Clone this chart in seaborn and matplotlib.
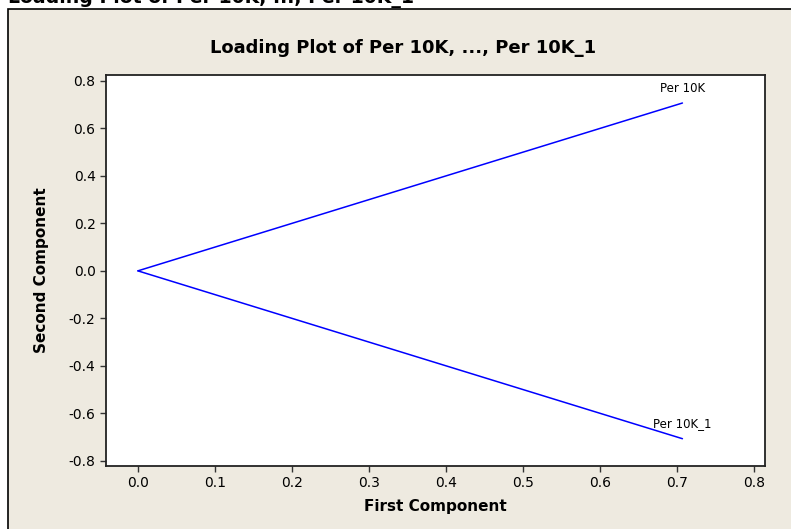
import numpy as np
import pandas as pd
import seaborn as sns
import matplotlib.pyplot as plt
from matplotlib.patches import Rectangle

# Yuklemeler (loadings) - PC1, PC2
variables = ['Per 10K', 'Per 10K_1']
first_comp = [0.707, 0.707]
second_comp = [0.707, -0.707]

x_ticks = [0.0, 0.1, 0.2, 0.3, 0.4, 0.5, 0.6, 0.7, 0.8]
y_ticks = [-0.8, -0.6, -0.4, -0.2, 0.0, 0.2, 0.4, 0.6, 0.8]

title = 'Loading Plot of Per 10K, ..., Per 10K_1'

sns.set_style('ticks')
plt.rcParams['font.family'] = ['DejaVu Sans']
plt.rcParams.update({'text.color': 'black', 'axes.labelcolor': 'black',
                     'xtick.color': 'black', 'ytick.color': 'black'})

W, H = 791, 529
fig = plt.figure(figsize=(W / 100, H / 100), dpi=100, facecolor='white')

# Minitab tarzi bej panel
fig.patches.append(Rectangle((7.5 / W, -0.1), 1.2, 1 - 9 / H + 0.1, transform=fig.transFigure,
                             facecolor='#eeeae0', edgecolor='black', linewidth=1.2, zorder=-10))

# Ustte kesilmis buyuk baslik
fig.text(8 / W, 1 - 2.5 / H, title, fontsize=13.6, fontweight='bold', va='baseline', ha='left')

# Panel basligi (figur ortasinda)
fig.text(403.5 / W, 1 - 53 / H, title, fontsize=13, fontweight='bold', va='baseline', ha='center')

ax = fig.add_axes([106 / W, (H - 466) / H, 659 / W, 391 / H])
ax.set_zorder(5)
ax.set_facecolor('white')

for xv, yv in zip(first_comp, second_comp):
    seg = pd.DataFrame({'x': [0.0, xv], 'y': [0.0, yv]})
    sns.lineplot(data=seg, x='x', y='y', ax=ax, color='#0000ff', linewidth=1.1, sort=False)

for name, xv, yv in zip(variables, first_comp, second_comp):
    ax.annotate(name, (xv, yv), xytext=(0, 6), textcoords='offset points',
                ha='center', va='bottom', fontsize=8.5)

ax.set_xlim(-0.0414, 0.8142)
ax.set_ylim(-0.822, 0.825)
ax.set_xticks(x_ticks)
ax.set_yticks(y_ticks)
ax.set_xticklabels([f'{v:.1f}' for v in x_ticks])
ax.set_yticklabels([f'{v:.1f}' for v in y_ticks])
ax.tick_params(direction='out', length=4, width=1, labelsize=10, color='#333333')
for s in ax.spines.values():
    s.set_linewidth(1.3)
    s.set_color('#222222')

ax.set_xlabel('First Component', fontsize=11, fontweight='bold', labelpad=6)
ax.set_ylabel('Second Component', fontsize=11, fontweight='bold', labelpad=14)

fig.savefig('out.png', dpi=100, facecolor=fig.get_facecolor())
